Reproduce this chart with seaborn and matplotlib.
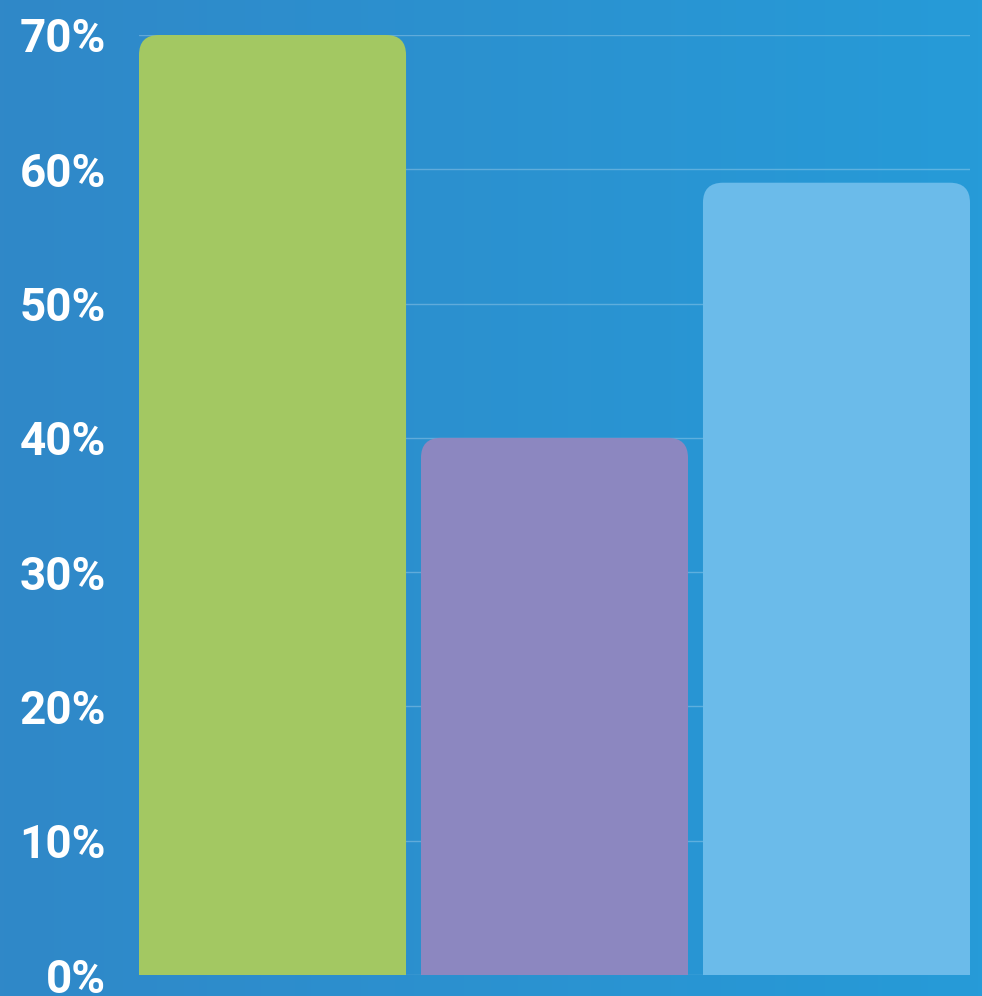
import numpy as np
import pandas as pd
import matplotlib
matplotlib.use("Agg")
import matplotlib.pyplot as plt
import matplotlib.ticker as ticker
from matplotlib.colors import LinearSegmentedColormap
from matplotlib.patches import FancyBboxPatch, Rectangle
import seaborn as sns

# data
categories = ["Group A", "Group B", "Group C"]
values = [70, 40, 59]
bar_colors = ["#A3C862", "#8C87C0", "#6BBBEA"]
y_ticks = [0, 10, 20, 30, 40, 50, 60, 70]

df = pd.DataFrame({"category": categories, "value": values})

sns.set_theme(style="white")
plt.rcParams["font.family"] = ["Roboto", "DejaVu Sans"]

fig = plt.figure(figsize=(9.82, 9.96), dpi=100)

# gradient background over the whole figure
bg = fig.add_axes([0, 0, 1, 1], zorder=-1)
cmap = LinearSegmentedColormap.from_list("bg", ["#3088C8", "#269BD8"])
bg.imshow(np.linspace(0, 1, 256).reshape(1, -1), aspect="auto", cmap=cmap,
          extent=[0, 1, 0, 1])
bg.set_axis_off()

ax = fig.add_axes([139 / 982, 21 / 996, 831 / 982, 940 / 996])
ax.set_facecolor("none")

bar_w = 0.947
sns.barplot(data=df, x="category", y="value", hue="category", palette=bar_colors,
            saturation=1, width=bar_w, legend=False, ax=ax, zorder=2)

ax.set_xlim(-bar_w / 2, len(categories) - 1 + bar_w / 2)
ax.set_ylim(0, 70)

# rounded top corners: swap each bar for a rounded box plus a square base
px_x = 831 / (len(categories) - 1 + bar_w)
px_y = 940 / 70
radius_px = 20
rx = radius_px / px_x
ry = radius_px / px_y
for patch in list(ax.patches):
    x0, w, h = patch.get_x(), patch.get_width(), patch.get_height()
    c = patch.get_facecolor()
    patch.set_visible(False)
    ax.add_patch(FancyBboxPatch((x0, 0), w, h,
                                boxstyle=f"round,pad=0,rounding_size={rx}",
                                mutation_aspect=ry / rx, facecolor=c,
                                edgecolor="none", zorder=3))
    ax.add_patch(Rectangle((x0, 0), w, h - ry, facecolor=c, edgecolor="none", zorder=3))

ax.yaxis.set_major_locator(ticker.FixedLocator(y_ticks))
ax.yaxis.set_major_formatter(ticker.FuncFormatter(lambda v, _: f"{v:.0f}%"))
ax.grid(axis="y", color="white", alpha=0.25, linewidth=1, zorder=1)
ax.set_axisbelow(True)
ax.tick_params(axis="y", length=0, pad=24, labelsize=33, labelcolor="white")
for lab in ax.get_yticklabels():
    lab.set_fontweight("bold")
ax.set_xticks([])
ax.set_xlabel("")
ax.set_ylabel("")
for s in ax.spines.values():
    s.set_visible(False)

fig.savefig("out.png", dpi=100)
